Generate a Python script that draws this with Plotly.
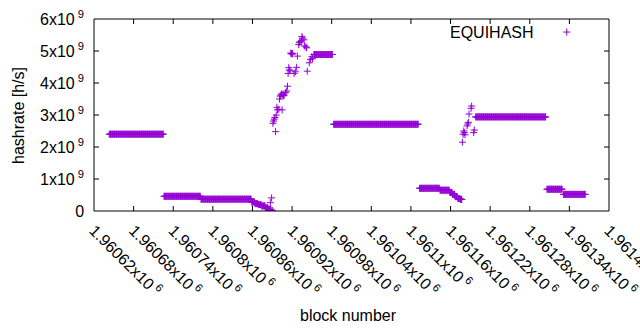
import plotly.graph_objects as go

# ---- data ----
# constant-rate runs: first block, last block, hashrate [1e9 h/s]
run_first = [1960643, 1960726, 1960782, 1960859, 1960864, 1960869, 1960874, 1960880, 1960884,
             1960953, 1960983, 1961113, 1961144, 1961159, 1961163, 1961167, 1961171, 1961175,
             1961198, 1961306, 1961331]
run_last = [1960725, 1960781, 1960858, 1960863, 1960868, 1960873, 1960879, 1960883, 1960888,
            1960981, 1961111, 1961143, 1961158, 1961162, 1961166, 1961170, 1961174, 1961177,
            1961304, 1961329, 1961364]
run_rate = [2.40, 0.46, 0.37, 0.28, 0.23, 0.20, 0.16, 0.10, 0.05,
            4.89, 2.71, 0.71, 0.65, 0.58, 0.52, 0.45, 0.39, 0.36,
            2.94, 0.68, 0.52]

# scattered individual blocks
pt_block = [1960887, 1960889, 1960890, 1960891, 1960892, 1960893, 1960894, 1960895, 1960896,
            1960897, 1960898, 1960900, 1960901, 1960902, 1960903, 1960904, 1960905, 1960906,
            1960907, 1960908, 1960910, 1960912, 1960913, 1960914, 1960915, 1960916, 1960917,
            1960918, 1960919, 1960920, 1960921, 1960923, 1960925, 1960927, 1960928, 1960930,
            1960931, 1960932, 1960934, 1960935, 1960936, 1960938, 1960939, 1960941, 1960942,
            1960943, 1960946, 1960948, 1960950, 1960951,
            1961176, 1961178, 1961179, 1961180, 1961181, 1961182, 1961185, 1961186, 1961187,
            1961188, 1961191, 1961192, 1961195, 1961196]
pt_rate = [0.26, 0.41, 0.02, 2.74, 2.81, 2.87, 2.92, 2.48, 3.00,
           3.24, 3.16, 3.18, 3.50, 3.59, 3.62, 3.66, 3.16, 3.64,
           3.60, 3.62, 3.70, 3.75, 3.90, 4.30, 4.48, 4.41, 4.38,
           4.93, 4.93, 4.90, 4.92, 4.30, 4.35, 4.49, 4.84, 5.20,
           5.26, 5.29, 5.32, 5.45, 5.40, 5.35, 5.16, 5.13, 5.10,
           4.37, 4.63, 4.74, 4.82, 4.76,
           0.37, 2.15, 2.40, 2.50, 2.45, 2.38, 2.66, 2.72, 2.77,
           3.03, 3.21, 3.28, 2.45, 2.53]

x_ticks = [1960620 + 60 * k for k in range(14)]
x_tick_mant = ["1.96062", "1.96068", "1.96074", "1.9608", "1.96086", "1.96092", "1.96098",
               "1.96104", "1.9611", "1.96116", "1.96122", "1.96128", "1.96134", "1.9614"]
y_ticks = [0, 1e9, 2e9, 3e9, 4e9, 5e9, 6e9]
y_tick_text = ["0", "1x10<sup> 9</sup>", "2x10<sup> 9</sup>", "3x10<sup> 9</sup>",
               "4x10<sup> 9</sup>", "5x10<sup> 9</sup>", "6x10<sup> 9</sup>"]

# ---- expand runs into one point per block ----
xs, ys = [], []
for a, b, r in zip(run_first, run_last, run_rate):
    for blk in range(a, b + 1):
        xs.append(blk)
        ys.append(r * 1e9)
for blk, r in zip(pt_block, pt_rate):
    xs.append(blk)
    ys.append(r * 1e9)

PURPLE = "#9400d3"
FONT = "Liberation Sans, Arial, sans-serif"
TICK = 5

fig = go.Figure()
fig.add_trace(go.Scatter(
    x=xs, y=ys, mode="markers", name="EQUIHASH", showlegend=False,
    marker=dict(symbol="cross-thin", size=5, color=PURPLE,
                line=dict(color=PURPLE, width=1)),
    hoverinfo="skip",
))

axis_common = dict(
    showline=False, ticks="", showgrid=False, zeroline=False,
    tickfont=dict(family=FONT, size=16, color="black"),
)

fig.update_xaxes(range=[1960620, 1961400], tickmode="array", tickvals=x_ticks,
                 ticktext=[m + "x10<sup> 6</sup>" for m in x_tick_mant],
                 tickangle=45, ticklabeloverflow="allow", ticklabelstandoff=6,
                 **axis_common)
fig.update_yaxes(range=[0, 6e9], tickmode="array", tickvals=y_ticks,
                 ticktext=[t + "&nbsp;&nbsp;" for t in y_tick_text], **axis_common)

# frame and inward ticks (gnuplot style, mirrored on all four sides)
blk = dict(color="black", width=1)
fig.add_shape(type="rect", xref="paper", yref="paper", x0=0, x1=1, y0=0, y1=1, line=blk)
for t in x_ticks[1:-1]:
    fig.add_shape(type="line", xref="x", yref="paper", ysizemode="pixel", yanchor=0,
                  x0=t, x1=t, y0=0, y1=TICK, line=blk)
    fig.add_shape(type="line", xref="x", yref="paper", ysizemode="pixel", yanchor=1,
                  x0=t, x1=t, y0=-TICK, y1=0, line=blk)
for t in y_ticks[1:-1]:
    fig.add_shape(type="line", xref="paper", yref="y", xsizemode="pixel", xanchor=0,
                  x0=0, x1=TICK, y0=t, y1=t, line=blk)
    fig.add_shape(type="line", xref="paper", yref="y", xsizemode="pixel", xanchor=1,
                  x0=-TICK, x1=0, y0=t, y1=t, line=blk)

# legend key (gnuplot style: text then sample on the right)
fig.add_annotation(xref="paper", yref="paper", x=0.858, y=0.932, text="EQUIHASH",
                   showarrow=False, xanchor="right", yanchor="middle",
                   font=dict(family=FONT, size=16, color="black"))
fig.add_shape(type="line", xref="paper", yref="paper", xsizemode="pixel", ysizemode="pixel",
              xanchor=0.918, yanchor=0.932, x0=-3.5, x1=3.5, y0=0, y1=0,
              line=dict(color=PURPLE, width=1))
fig.add_shape(type="line", xref="paper", yref="paper", xsizemode="pixel", ysizemode="pixel",
              xanchor=0.918, yanchor=0.932, x0=0, x1=0, y0=-3.5, y1=3.5,
              line=dict(color=PURPLE, width=1))

# axis titles
fig.add_annotation(xref="paper", yref="paper", x=-0.1476, y=0.5, text="hashrate [h/s]",
                   textangle=-90, showarrow=False, xanchor="center", yanchor="middle",
                   font=dict(family=FONT, size=16, color="black"))
fig.add_annotation(xref="paper", yref="paper", x=0.495, y=-0.542, text="block number",
                   showarrow=False, xanchor="center", yanchor="middle",
                   font=dict(family=FONT, size=16, color="black"))

fig.update_layout(
    width=640, height=330,
    margin=dict(l=94, r=31, t=19, b=119, autoexpand=False),
    paper_bgcolor="white", plot_bgcolor="white",
    font=dict(family=FONT, size=16, color="black"),
    showlegend=False,
)

fig.write_html("out.html", config={"displayModeBar": False},
               post_script="document.body.style.margin='0';document.body.style.overflow='hidden';")
